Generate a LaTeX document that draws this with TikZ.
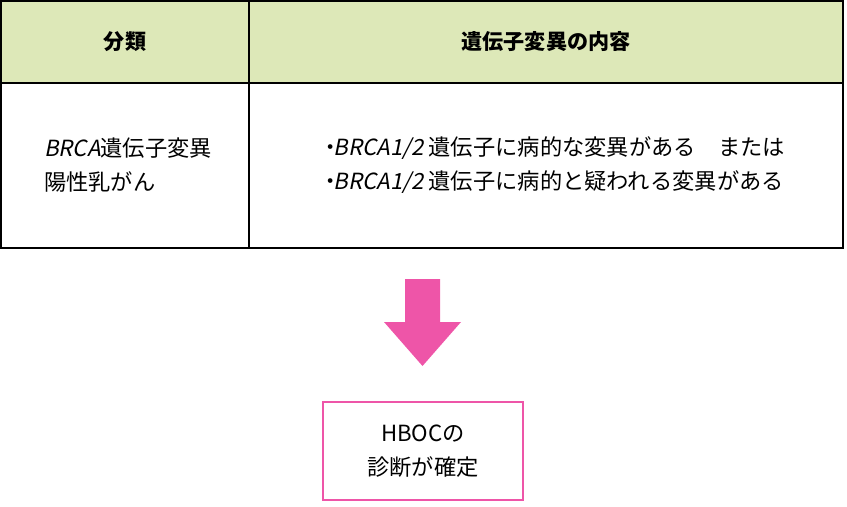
\documentclass[tikz,border=0pt]{standalone}
\usepackage{fontspec}
\setmainfont{Noto Sans CJK JP}
\newfontfamily\slantfont[FakeSlant=0.2]{Noto Sans CJK JP}
\newcommand\gene[1]{{\slantfont #1}}
\newcommand\pt{\kern-0.35em・\kern-0.35em}
\usetikzlibrary{positioning}
\definecolor{headgreen}{RGB}{221,232,184}
\definecolor{hbocpink}{RGB}{238,85,168}
\tikzset{cell/.style={font=\fontsize{19}{29}\selectfont,align=center}}
\tikzset{head/.style={cell,font=\fontsize{18}{29}\selectfont\bfseries}}
\tikzset{frame/.style={draw=black,line width=1.3pt}}
\begin{document}
\begin{tikzpicture}[x=0.03cm,y=-0.03cm]
  \useasboundingbox (0,0) rectangle (847,506);
  % Table
  \fill[headgreen] (1,1) rectangle (843,83);
  \draw[frame] (1,1) rectangle (843,248);
  \draw[frame] (1,83) -- (843,83);
  \draw[frame] (249,1) -- (249,248);
  \node[head] (kind) at (125,42) {分類};
  \node[head] (content) at (546,42) {遺伝子変異の内容};
  \node[cell,align=left] (brca) at (128,165) {\gene{BRCA}遺伝子変異\\陽性乳がん};
  \node[cell,align=left] (detail) at (556,165)
    {\pt\gene{BRCA1/2} 遺伝子に病的な変異がある\quad または\\
     \pt\gene{BRCA1/2} 遺伝子に病的と疑われる変異がある};
  % Arrow
  \fill[hbocpink] (405,279) -- (440,279) -- (440,322) -- (461,322)
    -- (422.5,366) -- (384,322) -- (405,322) -- cycle;
  % Result
  \node[cell,draw=hbocpink,line width=1.3pt,minimum width=200*0.03cm,
    minimum height=98*0.03cm] (hboc) at (423,451) {HBOCの\\診断が確定};
\end{tikzpicture}
\end{document}
